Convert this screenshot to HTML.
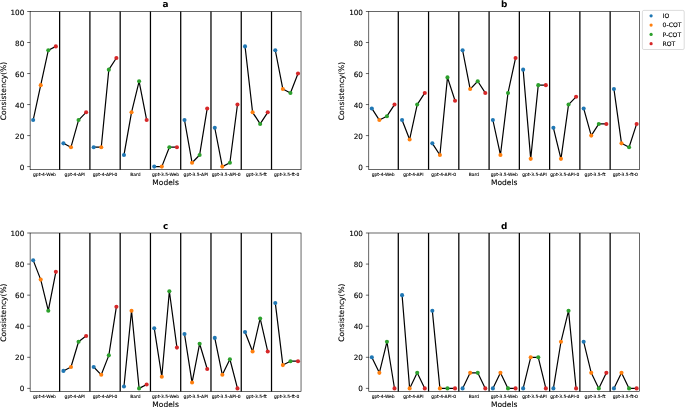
<!DOCTYPE html>
<html><head><meta charset="utf-8"><title>Consistency</title>
<style>
html,body{margin:0;padding:0;background:#fff;}
body{width:685px;height:407px;overflow:hidden;}
svg{display:block;font-family:'DejaVu Sans', 'Liberation Sans', sans-serif;fill:#000;text-rendering:geometricPrecision;}
text{fill:#000;}
.xt{stroke:#000;stroke-width:0.1px;}
.yt{stroke:#000;stroke-width:0.12px;}
.lg{stroke:#000;stroke-width:0.12px;}
.lb{stroke:#000;stroke-width:0.1px;}
</style></head><body>
<svg width="685" height="407" viewBox="0 0 685 407">
<rect width="685" height="407" fill="#fff"/>
<line x1="59.64" y1="11.5" x2="59.64" y2="169.7" stroke="#000" stroke-width="1.25"/>
<line x1="89.91" y1="11.5" x2="89.91" y2="169.7" stroke="#000" stroke-width="1.25"/>
<line x1="120.18" y1="11.5" x2="120.18" y2="169.7" stroke="#000" stroke-width="1.25"/>
<line x1="150.45" y1="11.5" x2="150.45" y2="169.7" stroke="#000" stroke-width="1.25"/>
<line x1="180.71" y1="11.5" x2="180.71" y2="169.7" stroke="#000" stroke-width="1.25"/>
<line x1="210.98" y1="11.5" x2="210.98" y2="169.7" stroke="#000" stroke-width="1.25"/>
<line x1="241.25" y1="11.5" x2="241.25" y2="169.7" stroke="#000" stroke-width="1.25"/>
<line x1="271.52" y1="11.5" x2="271.52" y2="169.7" stroke="#000" stroke-width="1.25"/>
<polyline points="33.16,120.07 40.72,85.17 48.29,50.27 55.86,46.4" fill="none" stroke="#000" stroke-width="1.2" stroke-linejoin="round" stroke-linecap="square"/>
<polyline points="63.42,143.33 70.99,147.21 78.56,120.07 86.13,112.31" fill="none" stroke="#000" stroke-width="1.2" stroke-linejoin="round" stroke-linecap="square"/>
<polyline points="93.69,147.21 101.26,147.21 108.83,69.66 116.39,58.03" fill="none" stroke="#000" stroke-width="1.2" stroke-linejoin="round" stroke-linecap="square"/>
<polyline points="123.96,154.97 131.53,112.31 139.1,81.29 146.66,120.07" fill="none" stroke="#000" stroke-width="1.2" stroke-linejoin="round" stroke-linecap="square"/>
<polyline points="154.23,166.6 161.8,166.6 169.36,147.21 176.93,147.21" fill="none" stroke="#000" stroke-width="1.2" stroke-linejoin="round" stroke-linecap="square"/>
<polyline points="184.5,120.07 192.06,162.72 199.63,154.97 207.2,108.44" fill="none" stroke="#000" stroke-width="1.2" stroke-linejoin="round" stroke-linecap="square"/>
<polyline points="214.77,127.82 222.33,166.6 229.9,162.72 237.47,104.56" fill="none" stroke="#000" stroke-width="1.2" stroke-linejoin="round" stroke-linecap="square"/>
<polyline points="245.03,46.4 252.6,112.31 260.17,123.95 267.74,112.31" fill="none" stroke="#000" stroke-width="1.2" stroke-linejoin="round" stroke-linecap="square"/>
<polyline points="275.3,50.27 282.87,89.05 290.44,92.93 298,73.54" fill="none" stroke="#000" stroke-width="1.2" stroke-linejoin="round" stroke-linecap="square"/>
<circle cx="33.16" cy="120.07" r="2.05" fill="#1f77b4"/>
<circle cx="40.72" cy="85.17" r="2.05" fill="#ff7f0e"/>
<circle cx="48.29" cy="50.27" r="2.05" fill="#2ca02c"/>
<circle cx="55.86" cy="46.4" r="2.05" fill="#d62728"/>
<circle cx="63.42" cy="143.33" r="2.05" fill="#1f77b4"/>
<circle cx="70.99" cy="147.21" r="2.05" fill="#ff7f0e"/>
<circle cx="78.56" cy="120.07" r="2.05" fill="#2ca02c"/>
<circle cx="86.13" cy="112.31" r="2.05" fill="#d62728"/>
<circle cx="93.69" cy="147.21" r="2.05" fill="#1f77b4"/>
<circle cx="101.26" cy="147.21" r="2.05" fill="#ff7f0e"/>
<circle cx="108.83" cy="69.66" r="2.05" fill="#2ca02c"/>
<circle cx="116.39" cy="58.03" r="2.05" fill="#d62728"/>
<circle cx="123.96" cy="154.97" r="2.05" fill="#1f77b4"/>
<circle cx="131.53" cy="112.31" r="2.05" fill="#ff7f0e"/>
<circle cx="139.1" cy="81.29" r="2.05" fill="#2ca02c"/>
<circle cx="146.66" cy="120.07" r="2.05" fill="#d62728"/>
<circle cx="154.23" cy="166.6" r="2.05" fill="#1f77b4"/>
<circle cx="161.8" cy="166.6" r="2.05" fill="#ff7f0e"/>
<circle cx="169.36" cy="147.21" r="2.05" fill="#2ca02c"/>
<circle cx="176.93" cy="147.21" r="2.05" fill="#d62728"/>
<circle cx="184.5" cy="120.07" r="2.05" fill="#1f77b4"/>
<circle cx="192.06" cy="162.72" r="2.05" fill="#ff7f0e"/>
<circle cx="199.63" cy="154.97" r="2.05" fill="#2ca02c"/>
<circle cx="207.2" cy="108.44" r="2.05" fill="#d62728"/>
<circle cx="214.77" cy="127.82" r="2.05" fill="#1f77b4"/>
<circle cx="222.33" cy="166.6" r="2.05" fill="#ff7f0e"/>
<circle cx="229.9" cy="162.72" r="2.05" fill="#2ca02c"/>
<circle cx="237.47" cy="104.56" r="2.05" fill="#d62728"/>
<circle cx="245.03" cy="46.4" r="2.05" fill="#1f77b4"/>
<circle cx="252.6" cy="112.31" r="2.05" fill="#ff7f0e"/>
<circle cx="260.17" cy="123.95" r="2.05" fill="#2ca02c"/>
<circle cx="267.74" cy="112.31" r="2.05" fill="#d62728"/>
<circle cx="275.3" cy="50.27" r="2.05" fill="#1f77b4"/>
<circle cx="282.87" cy="89.05" r="2.05" fill="#ff7f0e"/>
<circle cx="290.44" cy="92.93" r="2.05" fill="#2ca02c"/>
<circle cx="298" cy="73.54" r="2.05" fill="#d62728"/>
<rect x="30.13" y="11.5" width="270.9" height="158.2" fill="none" stroke="#000" stroke-width="0.6"/>
<line x1="27.23" y1="166.6" x2="30.13" y2="166.6" stroke="#000" stroke-width="0.6"/>
<text class="yt" x="24.33" y="169.64" font-size="7.25" text-anchor="end">0</text>
<line x1="27.23" y1="135.58" x2="30.13" y2="135.58" stroke="#000" stroke-width="0.6"/>
<text class="yt" x="24.33" y="138.62" font-size="7.25" text-anchor="end">20</text>
<line x1="27.23" y1="104.56" x2="30.13" y2="104.56" stroke="#000" stroke-width="0.6"/>
<text class="yt" x="24.33" y="107.6" font-size="7.25" text-anchor="end">40</text>
<line x1="27.23" y1="73.54" x2="30.13" y2="73.54" stroke="#000" stroke-width="0.6"/>
<text class="yt" x="24.33" y="76.58" font-size="7.25" text-anchor="end">60</text>
<line x1="27.23" y1="42.52" x2="30.13" y2="42.52" stroke="#000" stroke-width="0.6"/>
<text class="yt" x="24.33" y="45.56" font-size="7.25" text-anchor="end">80</text>
<line x1="27.23" y1="11.5" x2="30.13" y2="11.5" stroke="#000" stroke-width="0.6"/>
<text class="yt" x="24.33" y="14.54" font-size="7.25" text-anchor="end">100</text>
<text class="xt" x="44.51" y="176" font-size="4.45" text-anchor="middle">gpt-4-Web</text>
<text class="xt" x="74.78" y="176" font-size="4.45" text-anchor="middle">gpt-4-API</text>
<text class="xt" x="105.04" y="176" font-size="4.45" text-anchor="middle">gpt-4-API-0</text>
<text class="xt" x="135.31" y="176" font-size="4.45" text-anchor="middle">Bard</text>
<text class="xt" x="165.58" y="176" font-size="4.45" text-anchor="middle">gpt-3.5-Web</text>
<text class="xt" x="195.85" y="176" font-size="4.45" text-anchor="middle">gpt-3.5-API</text>
<text class="xt" x="226.12" y="176" font-size="4.45" text-anchor="middle">gpt-3.5-API-0</text>
<text class="xt" x="256.38" y="176" font-size="4.45" text-anchor="middle">gpt-3.5-ft</text>
<text class="xt" x="286.65" y="176" font-size="4.45" text-anchor="middle">gpt-3.5-ft-0</text>
<text class="lb" x="165.58" y="185.4" font-size="7.5" text-anchor="middle">Models</text>
<text class="lb" transform="translate(5.53 91) rotate(-90)" font-size="7.5" text-anchor="middle">Consistency(%)</text>
<text x="165.58" y="7" font-size="8.9" font-weight="bold" text-anchor="middle">a</text>
<line x1="398.29" y1="11.5" x2="398.29" y2="169.7" stroke="#000" stroke-width="1.25"/>
<line x1="428.56" y1="11.5" x2="428.56" y2="169.7" stroke="#000" stroke-width="1.25"/>
<line x1="458.82" y1="11.5" x2="458.82" y2="169.7" stroke="#000" stroke-width="1.25"/>
<line x1="489.09" y1="11.5" x2="489.09" y2="169.7" stroke="#000" stroke-width="1.25"/>
<line x1="519.35" y1="11.5" x2="519.35" y2="169.7" stroke="#000" stroke-width="1.25"/>
<line x1="549.62" y1="11.5" x2="549.62" y2="169.7" stroke="#000" stroke-width="1.25"/>
<line x1="579.88" y1="11.5" x2="579.88" y2="169.7" stroke="#000" stroke-width="1.25"/>
<line x1="610.15" y1="11.5" x2="610.15" y2="169.7" stroke="#000" stroke-width="1.25"/>
<polyline points="371.81,108.44 379.37,120.07 386.94,116.19 394.51,104.56" fill="none" stroke="#000" stroke-width="1.2" stroke-linejoin="round" stroke-linecap="square"/>
<polyline points="402.07,120.07 409.64,139.46 417.21,104.56 424.77,92.93" fill="none" stroke="#000" stroke-width="1.2" stroke-linejoin="round" stroke-linecap="square"/>
<polyline points="432.34,143.33 439.9,154.97 447.47,77.42 455.04,100.68" fill="none" stroke="#000" stroke-width="1.2" stroke-linejoin="round" stroke-linecap="square"/>
<polyline points="462.6,50.27 470.17,89.05 477.74,81.29 485.3,92.93" fill="none" stroke="#000" stroke-width="1.2" stroke-linejoin="round" stroke-linecap="square"/>
<polyline points="492.87,120.07 500.44,154.97 508,92.93 515.57,58.03" fill="none" stroke="#000" stroke-width="1.2" stroke-linejoin="round" stroke-linecap="square"/>
<polyline points="523.14,69.66 530.7,158.84 538.27,85.17 545.84,85.17" fill="none" stroke="#000" stroke-width="1.2" stroke-linejoin="round" stroke-linecap="square"/>
<polyline points="553.4,127.82 560.97,158.84 568.54,104.56 576.1,96.8" fill="none" stroke="#000" stroke-width="1.2" stroke-linejoin="round" stroke-linecap="square"/>
<polyline points="583.67,108.44 591.23,135.58 598.8,123.95 606.37,123.95" fill="none" stroke="#000" stroke-width="1.2" stroke-linejoin="round" stroke-linecap="square"/>
<polyline points="613.93,89.05 621.5,143.33 629.07,147.21 636.63,123.95" fill="none" stroke="#000" stroke-width="1.2" stroke-linejoin="round" stroke-linecap="square"/>
<circle cx="371.81" cy="108.44" r="2.05" fill="#1f77b4"/>
<circle cx="379.37" cy="120.07" r="2.05" fill="#ff7f0e"/>
<circle cx="386.94" cy="116.19" r="2.05" fill="#2ca02c"/>
<circle cx="394.51" cy="104.56" r="2.05" fill="#d62728"/>
<circle cx="402.07" cy="120.07" r="2.05" fill="#1f77b4"/>
<circle cx="409.64" cy="139.46" r="2.05" fill="#ff7f0e"/>
<circle cx="417.21" cy="104.56" r="2.05" fill="#2ca02c"/>
<circle cx="424.77" cy="92.93" r="2.05" fill="#d62728"/>
<circle cx="432.34" cy="143.33" r="2.05" fill="#1f77b4"/>
<circle cx="439.9" cy="154.97" r="2.05" fill="#ff7f0e"/>
<circle cx="447.47" cy="77.42" r="2.05" fill="#2ca02c"/>
<circle cx="455.04" cy="100.68" r="2.05" fill="#d62728"/>
<circle cx="462.6" cy="50.27" r="2.05" fill="#1f77b4"/>
<circle cx="470.17" cy="89.05" r="2.05" fill="#ff7f0e"/>
<circle cx="477.74" cy="81.29" r="2.05" fill="#2ca02c"/>
<circle cx="485.3" cy="92.93" r="2.05" fill="#d62728"/>
<circle cx="492.87" cy="120.07" r="2.05" fill="#1f77b4"/>
<circle cx="500.44" cy="154.97" r="2.05" fill="#ff7f0e"/>
<circle cx="508" cy="92.93" r="2.05" fill="#2ca02c"/>
<circle cx="515.57" cy="58.03" r="2.05" fill="#d62728"/>
<circle cx="523.14" cy="69.66" r="2.05" fill="#1f77b4"/>
<circle cx="530.7" cy="158.84" r="2.05" fill="#ff7f0e"/>
<circle cx="538.27" cy="85.17" r="2.05" fill="#2ca02c"/>
<circle cx="545.84" cy="85.17" r="2.05" fill="#d62728"/>
<circle cx="553.4" cy="127.82" r="2.05" fill="#1f77b4"/>
<circle cx="560.97" cy="158.84" r="2.05" fill="#ff7f0e"/>
<circle cx="568.54" cy="104.56" r="2.05" fill="#2ca02c"/>
<circle cx="576.1" cy="96.8" r="2.05" fill="#d62728"/>
<circle cx="583.67" cy="108.44" r="2.05" fill="#1f77b4"/>
<circle cx="591.23" cy="135.58" r="2.05" fill="#ff7f0e"/>
<circle cx="598.8" cy="123.95" r="2.05" fill="#2ca02c"/>
<circle cx="606.37" cy="123.95" r="2.05" fill="#d62728"/>
<circle cx="613.93" cy="89.05" r="2.05" fill="#1f77b4"/>
<circle cx="621.5" cy="143.33" r="2.05" fill="#ff7f0e"/>
<circle cx="629.07" cy="147.21" r="2.05" fill="#2ca02c"/>
<circle cx="636.63" cy="123.95" r="2.05" fill="#d62728"/>
<rect x="368.78" y="11.5" width="270.88" height="158.2" fill="none" stroke="#000" stroke-width="0.6"/>
<line x1="365.88" y1="166.6" x2="368.78" y2="166.6" stroke="#000" stroke-width="0.6"/>
<text class="yt" x="362.98" y="169.64" font-size="7.25" text-anchor="end">0</text>
<line x1="365.88" y1="135.58" x2="368.78" y2="135.58" stroke="#000" stroke-width="0.6"/>
<text class="yt" x="362.98" y="138.62" font-size="7.25" text-anchor="end">20</text>
<line x1="365.88" y1="104.56" x2="368.78" y2="104.56" stroke="#000" stroke-width="0.6"/>
<text class="yt" x="362.98" y="107.6" font-size="7.25" text-anchor="end">40</text>
<line x1="365.88" y1="73.54" x2="368.78" y2="73.54" stroke="#000" stroke-width="0.6"/>
<text class="yt" x="362.98" y="76.58" font-size="7.25" text-anchor="end">60</text>
<line x1="365.88" y1="42.52" x2="368.78" y2="42.52" stroke="#000" stroke-width="0.6"/>
<text class="yt" x="362.98" y="45.56" font-size="7.25" text-anchor="end">80</text>
<line x1="365.88" y1="11.5" x2="368.78" y2="11.5" stroke="#000" stroke-width="0.6"/>
<text class="yt" x="362.98" y="14.54" font-size="7.25" text-anchor="end">100</text>
<text class="xt" x="383.16" y="176" font-size="4.45" text-anchor="middle">gpt-4-Web</text>
<text class="xt" x="413.42" y="176" font-size="4.45" text-anchor="middle">gpt-4-API</text>
<text class="xt" x="443.69" y="176" font-size="4.45" text-anchor="middle">gpt-4-API-0</text>
<text class="xt" x="473.95" y="176" font-size="4.45" text-anchor="middle">Bard</text>
<text class="xt" x="504.22" y="176" font-size="4.45" text-anchor="middle">gpt-3.5-Web</text>
<text class="xt" x="534.49" y="176" font-size="4.45" text-anchor="middle">gpt-3.5-API</text>
<text class="xt" x="564.75" y="176" font-size="4.45" text-anchor="middle">gpt-3.5-API-0</text>
<text class="xt" x="595.02" y="176" font-size="4.45" text-anchor="middle">gpt-3.5-ft</text>
<text class="xt" x="625.28" y="176" font-size="4.45" text-anchor="middle">gpt-3.5-ft-0</text>
<text class="lb" x="504.22" y="185.4" font-size="7.5" text-anchor="middle">Models</text>
<text class="lb" transform="translate(344.18 91) rotate(-90)" font-size="7.5" text-anchor="middle">Consistency(%)</text>
<text x="504.22" y="7" font-size="8.9" font-weight="bold" text-anchor="middle">b</text>
<line x1="59.64" y1="233" x2="59.64" y2="391.5" stroke="#000" stroke-width="1.25"/>
<line x1="89.91" y1="233" x2="89.91" y2="391.5" stroke="#000" stroke-width="1.25"/>
<line x1="120.18" y1="233" x2="120.18" y2="391.5" stroke="#000" stroke-width="1.25"/>
<line x1="150.45" y1="233" x2="150.45" y2="391.5" stroke="#000" stroke-width="1.25"/>
<line x1="180.71" y1="233" x2="180.71" y2="391.5" stroke="#000" stroke-width="1.25"/>
<line x1="210.98" y1="233" x2="210.98" y2="391.5" stroke="#000" stroke-width="1.25"/>
<line x1="241.25" y1="233" x2="241.25" y2="391.5" stroke="#000" stroke-width="1.25"/>
<line x1="271.52" y1="233" x2="271.52" y2="391.5" stroke="#000" stroke-width="1.25"/>
<polyline points="33.16,260.19 40.72,279.62 48.29,310.7 55.86,271.85" fill="none" stroke="#000" stroke-width="1.2" stroke-linejoin="round" stroke-linecap="square"/>
<polyline points="63.42,370.91 70.99,367.03 78.56,341.77 86.13,335.95" fill="none" stroke="#000" stroke-width="1.2" stroke-linejoin="round" stroke-linecap="square"/>
<polyline points="93.69,367.03 101.26,374.8 108.83,355.37 116.39,306.81" fill="none" stroke="#000" stroke-width="1.2" stroke-linejoin="round" stroke-linecap="square"/>
<polyline points="123.96,386.45 131.53,310.7 139.1,388.39 146.66,384.51" fill="none" stroke="#000" stroke-width="1.2" stroke-linejoin="round" stroke-linecap="square"/>
<polyline points="154.23,328.18 161.8,376.74 169.36,291.27 176.93,347.6" fill="none" stroke="#000" stroke-width="1.2" stroke-linejoin="round" stroke-linecap="square"/>
<polyline points="184.5,334 192.06,382.56 199.63,343.72 207.2,368.97" fill="none" stroke="#000" stroke-width="1.2" stroke-linejoin="round" stroke-linecap="square"/>
<polyline points="214.77,337.89 222.33,374.8 229.9,359.26 237.47,388.39" fill="none" stroke="#000" stroke-width="1.2" stroke-linejoin="round" stroke-linecap="square"/>
<polyline points="245.03,332.06 252.6,351.49 260.17,318.47 267.74,351.49" fill="none" stroke="#000" stroke-width="1.2" stroke-linejoin="round" stroke-linecap="square"/>
<polyline points="275.3,302.93 282.87,365.08 290.44,361.2 298,361.2" fill="none" stroke="#000" stroke-width="1.2" stroke-linejoin="round" stroke-linecap="square"/>
<circle cx="33.16" cy="260.19" r="2.05" fill="#1f77b4"/>
<circle cx="40.72" cy="279.62" r="2.05" fill="#ff7f0e"/>
<circle cx="48.29" cy="310.7" r="2.05" fill="#2ca02c"/>
<circle cx="55.86" cy="271.85" r="2.05" fill="#d62728"/>
<circle cx="63.42" cy="370.91" r="2.05" fill="#1f77b4"/>
<circle cx="70.99" cy="367.03" r="2.05" fill="#ff7f0e"/>
<circle cx="78.56" cy="341.77" r="2.05" fill="#2ca02c"/>
<circle cx="86.13" cy="335.95" r="2.05" fill="#d62728"/>
<circle cx="93.69" cy="367.03" r="2.05" fill="#1f77b4"/>
<circle cx="101.26" cy="374.8" r="2.05" fill="#ff7f0e"/>
<circle cx="108.83" cy="355.37" r="2.05" fill="#2ca02c"/>
<circle cx="116.39" cy="306.81" r="2.05" fill="#d62728"/>
<circle cx="123.96" cy="386.45" r="2.05" fill="#1f77b4"/>
<circle cx="131.53" cy="310.7" r="2.05" fill="#ff7f0e"/>
<circle cx="139.1" cy="388.39" r="2.05" fill="#2ca02c"/>
<circle cx="146.66" cy="384.51" r="2.05" fill="#d62728"/>
<circle cx="154.23" cy="328.18" r="2.05" fill="#1f77b4"/>
<circle cx="161.8" cy="376.74" r="2.05" fill="#ff7f0e"/>
<circle cx="169.36" cy="291.27" r="2.05" fill="#2ca02c"/>
<circle cx="176.93" cy="347.6" r="2.05" fill="#d62728"/>
<circle cx="184.5" cy="334" r="2.05" fill="#1f77b4"/>
<circle cx="192.06" cy="382.56" r="2.05" fill="#ff7f0e"/>
<circle cx="199.63" cy="343.72" r="2.05" fill="#2ca02c"/>
<circle cx="207.2" cy="368.97" r="2.05" fill="#d62728"/>
<circle cx="214.77" cy="337.89" r="2.05" fill="#1f77b4"/>
<circle cx="222.33" cy="374.8" r="2.05" fill="#ff7f0e"/>
<circle cx="229.9" cy="359.26" r="2.05" fill="#2ca02c"/>
<circle cx="237.47" cy="388.39" r="2.05" fill="#d62728"/>
<circle cx="245.03" cy="332.06" r="2.05" fill="#1f77b4"/>
<circle cx="252.6" cy="351.49" r="2.05" fill="#ff7f0e"/>
<circle cx="260.17" cy="318.47" r="2.05" fill="#2ca02c"/>
<circle cx="267.74" cy="351.49" r="2.05" fill="#d62728"/>
<circle cx="275.3" cy="302.93" r="2.05" fill="#1f77b4"/>
<circle cx="282.87" cy="365.08" r="2.05" fill="#ff7f0e"/>
<circle cx="290.44" cy="361.2" r="2.05" fill="#2ca02c"/>
<circle cx="298" cy="361.2" r="2.05" fill="#d62728"/>
<rect x="30.13" y="233" width="270.9" height="158.5" fill="none" stroke="#000" stroke-width="0.6"/>
<line x1="27.23" y1="388.39" x2="30.13" y2="388.39" stroke="#000" stroke-width="0.6"/>
<text class="yt" x="24.33" y="391.44" font-size="7.25" text-anchor="end">0</text>
<line x1="27.23" y1="357.31" x2="30.13" y2="357.31" stroke="#000" stroke-width="0.6"/>
<text class="yt" x="24.33" y="360.36" font-size="7.25" text-anchor="end">20</text>
<line x1="27.23" y1="326.24" x2="30.13" y2="326.24" stroke="#000" stroke-width="0.6"/>
<text class="yt" x="24.33" y="329.28" font-size="7.25" text-anchor="end">40</text>
<line x1="27.23" y1="295.16" x2="30.13" y2="295.16" stroke="#000" stroke-width="0.6"/>
<text class="yt" x="24.33" y="298.2" font-size="7.25" text-anchor="end">60</text>
<line x1="27.23" y1="264.08" x2="30.13" y2="264.08" stroke="#000" stroke-width="0.6"/>
<text class="yt" x="24.33" y="267.12" font-size="7.25" text-anchor="end">80</text>
<line x1="27.23" y1="233" x2="30.13" y2="233" stroke="#000" stroke-width="0.6"/>
<text class="yt" x="24.33" y="236.04" font-size="7.25" text-anchor="end">100</text>
<text class="xt" x="44.51" y="397.8" font-size="4.45" text-anchor="middle">gpt-4-Web</text>
<text class="xt" x="74.78" y="397.8" font-size="4.45" text-anchor="middle">gpt-4-API</text>
<text class="xt" x="105.04" y="397.8" font-size="4.45" text-anchor="middle">gpt-4-API-0</text>
<text class="xt" x="135.31" y="397.8" font-size="4.45" text-anchor="middle">Bard</text>
<text class="xt" x="165.58" y="397.8" font-size="4.45" text-anchor="middle">gpt-3.5-Web</text>
<text class="xt" x="195.85" y="397.8" font-size="4.45" text-anchor="middle">gpt-3.5-API</text>
<text class="xt" x="226.12" y="397.8" font-size="4.45" text-anchor="middle">gpt-3.5-API-0</text>
<text class="xt" x="256.38" y="397.8" font-size="4.45" text-anchor="middle">gpt-3.5-ft</text>
<text class="xt" x="286.65" y="397.8" font-size="4.45" text-anchor="middle">gpt-3.5-ft-0</text>
<text class="lb" x="165.58" y="407.2" font-size="7.5" text-anchor="middle">Models</text>
<text class="lb" transform="translate(5.53 312.65) rotate(-90)" font-size="7.5" text-anchor="middle">Consistency(%)</text>
<text x="165.58" y="228.5" font-size="8.9" font-weight="bold" text-anchor="middle">c</text>
<line x1="398.29" y1="233" x2="398.29" y2="391.5" stroke="#000" stroke-width="1.25"/>
<line x1="428.56" y1="233" x2="428.56" y2="391.5" stroke="#000" stroke-width="1.25"/>
<line x1="458.82" y1="233" x2="458.82" y2="391.5" stroke="#000" stroke-width="1.25"/>
<line x1="489.09" y1="233" x2="489.09" y2="391.5" stroke="#000" stroke-width="1.25"/>
<line x1="519.35" y1="233" x2="519.35" y2="391.5" stroke="#000" stroke-width="1.25"/>
<line x1="549.62" y1="233" x2="549.62" y2="391.5" stroke="#000" stroke-width="1.25"/>
<line x1="579.88" y1="233" x2="579.88" y2="391.5" stroke="#000" stroke-width="1.25"/>
<line x1="610.15" y1="233" x2="610.15" y2="391.5" stroke="#000" stroke-width="1.25"/>
<polyline points="371.81,357.31 379.37,372.85 386.94,341.77 394.51,388.39" fill="none" stroke="#000" stroke-width="1.2" stroke-linejoin="round" stroke-linecap="square"/>
<polyline points="402.07,295.16 409.64,388.39 417.21,372.85 424.77,388.39" fill="none" stroke="#000" stroke-width="1.2" stroke-linejoin="round" stroke-linecap="square"/>
<polyline points="432.34,310.7 439.9,388.39 447.47,388.39 455.04,388.39" fill="none" stroke="#000" stroke-width="1.2" stroke-linejoin="round" stroke-linecap="square"/>
<polyline points="462.6,388.39 470.17,372.85 477.74,372.85 485.3,388.39" fill="none" stroke="#000" stroke-width="1.2" stroke-linejoin="round" stroke-linecap="square"/>
<polyline points="492.87,388.39 500.44,372.85 508,388.39 515.57,388.39" fill="none" stroke="#000" stroke-width="1.2" stroke-linejoin="round" stroke-linecap="square"/>
<polyline points="523.14,388.39 530.7,357.31 538.27,357.31 545.84,388.39" fill="none" stroke="#000" stroke-width="1.2" stroke-linejoin="round" stroke-linecap="square"/>
<polyline points="553.4,388.39 560.97,341.77 568.54,310.7 576.1,388.39" fill="none" stroke="#000" stroke-width="1.2" stroke-linejoin="round" stroke-linecap="square"/>
<polyline points="583.67,341.77 591.23,372.85 598.8,388.39 606.37,372.85" fill="none" stroke="#000" stroke-width="1.2" stroke-linejoin="round" stroke-linecap="square"/>
<polyline points="613.93,388.39 621.5,372.85 629.07,388.39 636.63,388.39" fill="none" stroke="#000" stroke-width="1.2" stroke-linejoin="round" stroke-linecap="square"/>
<circle cx="371.81" cy="357.31" r="2.05" fill="#1f77b4"/>
<circle cx="379.37" cy="372.85" r="2.05" fill="#ff7f0e"/>
<circle cx="386.94" cy="341.77" r="2.05" fill="#2ca02c"/>
<circle cx="394.51" cy="388.39" r="2.05" fill="#d62728"/>
<circle cx="402.07" cy="295.16" r="2.05" fill="#1f77b4"/>
<circle cx="409.64" cy="388.39" r="2.05" fill="#ff7f0e"/>
<circle cx="417.21" cy="372.85" r="2.05" fill="#2ca02c"/>
<circle cx="424.77" cy="388.39" r="2.05" fill="#d62728"/>
<circle cx="432.34" cy="310.7" r="2.05" fill="#1f77b4"/>
<circle cx="439.9" cy="388.39" r="2.05" fill="#ff7f0e"/>
<circle cx="447.47" cy="388.39" r="2.05" fill="#2ca02c"/>
<circle cx="455.04" cy="388.39" r="2.05" fill="#d62728"/>
<circle cx="462.6" cy="388.39" r="2.05" fill="#1f77b4"/>
<circle cx="470.17" cy="372.85" r="2.05" fill="#ff7f0e"/>
<circle cx="477.74" cy="372.85" r="2.05" fill="#2ca02c"/>
<circle cx="485.3" cy="388.39" r="2.05" fill="#d62728"/>
<circle cx="492.87" cy="388.39" r="2.05" fill="#1f77b4"/>
<circle cx="500.44" cy="372.85" r="2.05" fill="#ff7f0e"/>
<circle cx="508" cy="388.39" r="2.05" fill="#2ca02c"/>
<circle cx="515.57" cy="388.39" r="2.05" fill="#d62728"/>
<circle cx="523.14" cy="388.39" r="2.05" fill="#1f77b4"/>
<circle cx="530.7" cy="357.31" r="2.05" fill="#ff7f0e"/>
<circle cx="538.27" cy="357.31" r="2.05" fill="#2ca02c"/>
<circle cx="545.84" cy="388.39" r="2.05" fill="#d62728"/>
<circle cx="553.4" cy="388.39" r="2.05" fill="#1f77b4"/>
<circle cx="560.97" cy="341.77" r="2.05" fill="#ff7f0e"/>
<circle cx="568.54" cy="310.7" r="2.05" fill="#2ca02c"/>
<circle cx="576.1" cy="388.39" r="2.05" fill="#d62728"/>
<circle cx="583.67" cy="341.77" r="2.05" fill="#1f77b4"/>
<circle cx="591.23" cy="372.85" r="2.05" fill="#ff7f0e"/>
<circle cx="598.8" cy="388.39" r="2.05" fill="#2ca02c"/>
<circle cx="606.37" cy="372.85" r="2.05" fill="#d62728"/>
<circle cx="613.93" cy="388.39" r="2.05" fill="#1f77b4"/>
<circle cx="621.5" cy="372.85" r="2.05" fill="#ff7f0e"/>
<circle cx="629.07" cy="388.39" r="2.05" fill="#2ca02c"/>
<circle cx="636.63" cy="388.39" r="2.05" fill="#d62728"/>
<rect x="368.78" y="233" width="270.88" height="158.5" fill="none" stroke="#000" stroke-width="0.6"/>
<line x1="365.88" y1="388.39" x2="368.78" y2="388.39" stroke="#000" stroke-width="0.6"/>
<text class="yt" x="362.98" y="391.44" font-size="7.25" text-anchor="end">0</text>
<line x1="365.88" y1="357.31" x2="368.78" y2="357.31" stroke="#000" stroke-width="0.6"/>
<text class="yt" x="362.98" y="360.36" font-size="7.25" text-anchor="end">20</text>
<line x1="365.88" y1="326.24" x2="368.78" y2="326.24" stroke="#000" stroke-width="0.6"/>
<text class="yt" x="362.98" y="329.28" font-size="7.25" text-anchor="end">40</text>
<line x1="365.88" y1="295.16" x2="368.78" y2="295.16" stroke="#000" stroke-width="0.6"/>
<text class="yt" x="362.98" y="298.2" font-size="7.25" text-anchor="end">60</text>
<line x1="365.88" y1="264.08" x2="368.78" y2="264.08" stroke="#000" stroke-width="0.6"/>
<text class="yt" x="362.98" y="267.12" font-size="7.25" text-anchor="end">80</text>
<line x1="365.88" y1="233" x2="368.78" y2="233" stroke="#000" stroke-width="0.6"/>
<text class="yt" x="362.98" y="236.04" font-size="7.25" text-anchor="end">100</text>
<text class="xt" x="383.16" y="397.8" font-size="4.45" text-anchor="middle">gpt-4-Web</text>
<text class="xt" x="413.42" y="397.8" font-size="4.45" text-anchor="middle">gpt-4-API</text>
<text class="xt" x="443.69" y="397.8" font-size="4.45" text-anchor="middle">gpt-4-API-0</text>
<text class="xt" x="473.95" y="397.8" font-size="4.45" text-anchor="middle">Bard</text>
<text class="xt" x="504.22" y="397.8" font-size="4.45" text-anchor="middle">gpt-3.5-Web</text>
<text class="xt" x="534.49" y="397.8" font-size="4.45" text-anchor="middle">gpt-3.5-API</text>
<text class="xt" x="564.75" y="397.8" font-size="4.45" text-anchor="middle">gpt-3.5-API-0</text>
<text class="xt" x="595.02" y="397.8" font-size="4.45" text-anchor="middle">gpt-3.5-ft</text>
<text class="xt" x="625.28" y="397.8" font-size="4.45" text-anchor="middle">gpt-3.5-ft-0</text>
<text class="lb" x="504.22" y="407.2" font-size="7.5" text-anchor="middle">Models</text>
<text class="lb" transform="translate(344.18 312.65) rotate(-90)" font-size="7.5" text-anchor="middle">Consistency(%)</text>
<text x="504.22" y="228.5" font-size="8.9" font-weight="bold" text-anchor="middle">d</text>
<rect x="642.4" y="10.4" width="41.8" height="39.1" rx="1.4" ry="1.4" fill="#fff" fill-opacity="0.8" stroke="#c4c4c4" stroke-width="0.6"/>
<circle cx="651.1" cy="15.8" r="1.6" fill="#1f77b4"/>
<text class="lg" x="662.6" y="18.02" font-size="6.1">IO</text>
<circle cx="651.1" cy="25.1" r="1.6" fill="#ff7f0e"/>
<text class="lg" x="662.6" y="27.32" font-size="6.1">0-COT</text>
<circle cx="651.1" cy="34.4" r="1.6" fill="#2ca02c"/>
<text class="lg" x="662.6" y="36.62" font-size="6.1">P-COT</text>
<circle cx="651.1" cy="43.7" r="1.6" fill="#d62728"/>
<text class="lg" x="662.6" y="45.92" font-size="6.1">ROT</text>
</svg>
</body></html>
